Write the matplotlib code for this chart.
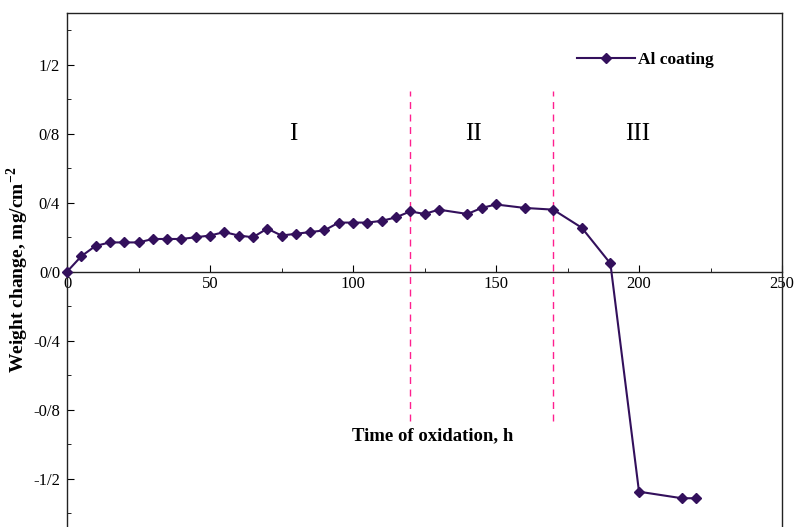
import matplotlib
matplotlib.use("Agg")
from matplotlib import pyplot as plt
from matplotlib.ticker import MultipleLocator, FuncFormatter

plt.rcParams['font.family'] = ['Liberation Serif', 'DejaVu Serif']
plt.rcParams['mathtext.fontset'] = 'custom'
plt.rcParams['mathtext.rm'] = 'Liberation Serif'
plt.rcParams['mathtext.bf'] = 'Liberation Serif:bold'

# time of oxidation (h) and weight change (mg/cm^2)
time_h = [0, 5, 10, 15, 20, 25, 30, 35, 40, 45, 50, 55, 60, 65, 70, 75, 80, 85, 90,
          95, 100, 105, 110, 115, 120, 125, 130, 140, 145, 150, 160, 170, 180, 190,
          200, 215, 220]
weight = [0.0, 0.09, 0.15, 0.17, 0.17, 0.17, 0.19, 0.19, 0.19, 0.20, 0.21, 0.23, 0.21,
          0.20, 0.25, 0.21, 0.22, 0.23, 0.24, 0.285, 0.285, 0.285, 0.295, 0.315, 0.35,
          0.335, 0.36, 0.335, 0.37, 0.39, 0.37, 0.36, 0.255, 0.048, -1.275, -1.313,
          -1.313]
stage_bounds = [120, 170]
stage_names = ['I', 'II', 'III']
stage_x = [79, 142, 199.5]

col = '#33105c'

fig = plt.figure(figsize=(7.94, 5.27), dpi=100)
ax = fig.add_axes([67 / 794, 1 - 530.5 / 527, 715 / 794, 517.5 / 527])

ax.plot(time_h, weight, '-', color=col, lw=1.5, marker='D', ms=4.6,
        mfc=col, mec=col, label='Al coating', clip_on=False, zorder=3)

for xb in stage_bounds:
    ax.plot([xb, xb], [-0.867, 1.046], color='#ff1f8f', lw=1, ls=(0, (5, 4)), zorder=2)

for nm, xs in zip(stage_names, stage_x):
    ax.text(xs, 0.80, nm, fontsize=18, ha='center', va='center')

ax.set_xlim(0, 250)
ax.set_ylim(-1.5, 1.5)
ax.spines['bottom'].set_position(('data', 0))
for s in ax.spines.values():
    s.set_linewidth(1.0)
    s.set_color('#222222')

ax.xaxis.set_major_locator(MultipleLocator(50))
ax.xaxis.set_minor_locator(MultipleLocator(25))
ax.yaxis.set_major_locator(MultipleLocator(0.4))
ax.yaxis.set_minor_locator(MultipleLocator(0.2))
ax.tick_params(which='both', direction='in', top=False, right=False, labelsize=12)
ax.tick_params(which='major', length=5)
ax.tick_params(which='minor', length=3)
ax.tick_params(axis='x', pad=3)
ax.tick_params(axis='y', pad=5)


def ylab(v, pos):
    s = '%.1f' % v
    if s == '-0.0':
        s = '0.0'
    return s.replace('.', '/')


ax.yaxis.set_major_formatter(FuncFormatter(ylab))

ax.text(128, -0.95, 'Time of oxidation, h', fontsize=13.5, fontweight='bold',
        ha='center', va='center')
fig.text(18 / 794, 1 - 270 / 527, r'Weight change, mg/cm$^{\mathbf{-2}}$', fontsize=14,
         fontweight='bold', rotation=90, ha='center', va='center')

leg = ax.legend(loc='upper left', bbox_to_anchor=(0.692, 0.955), frameon=False,
                prop={'weight': 'bold', 'size': 12.5}, handlelength=3.3, handletextpad=0.2)

fig.savefig('out.png', dpi=100)
